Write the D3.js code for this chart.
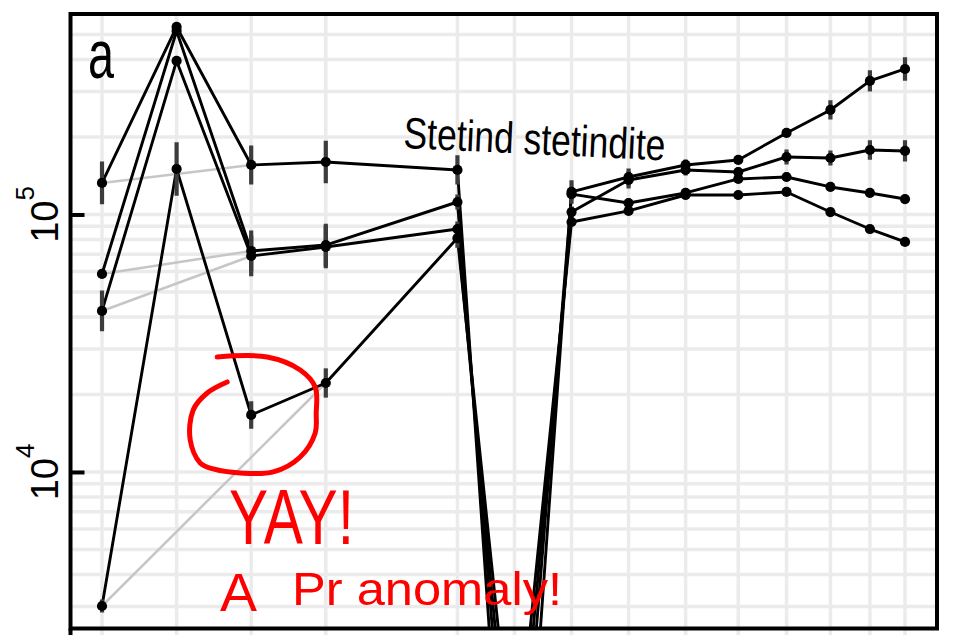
<!DOCTYPE html>
<html><head><meta charset="utf-8">
<script src="https://cdnjs.cloudflare.com/ajax/libs/d3/7.8.5/d3.min.js"></script>
<style>body{margin:0;background:#fff}svg{display:block}</style>
</head><body>
<svg id="c" width="955" height="635"></svg>
<script>
// ---- data ----
const elements = ["La","Ce","Pr","Nd","Sm","Eu","Gd","Tb","Dy","Ho","Er","Tm","Yb","Lu"];
const radius   = [1.160,1.143,1.126,1.109,1.079,1.066,1.053,1.040,1.027,1.015,1.004,0.994,0.985,0.977];
const sample1 = [132600,534800,155700,159900,148900,95,122300,139800,155700,162800,207300,254600,330000,367300];
const sample2 = [58750,516000,72150,76100,111800,220,119900,110800,121200,137400,139800,127900,121200,114800];
const sample3 = [42200,394700,69000,74800,87800,400,102200,136100,148900,146200,167200,165700,178000,176500];
const sample4 = [3017,150200,16650,22160,81000,620,93500,103200,119000,119000,122300,102200,87800,78200];
// relative errors (fraction)
const err1 = [0.21,0.04,0.19,0.21,0.14,0.05,0.11,0.08,0.05,0.04,0.04,0.09,0.10,0.11];
const err2 = [0.04,0.03,0.20,0.21,0.07,0.05,0.05,0.04,0.04,0.04,0.04,0.04,0.04,0.04];
const err3 = [0.20,0.03,0.20,0.21,0.07,0.05,0.05,0.08,0.05,0.04,0.07,0.07,0.09,0.10];
const err4 = [0.06,0.27,0.13,0.14,0.09,0.05,0.04,0.04,0.04,0.04,0.03,0.03,0.03,0.03];
// grey reference segments (element indices)
const refFrom = [0,0,0,0];
const refTo   = [2,2,2,3];
const yGridTicks = [3000,4000,5000,6000,7000,8000,9000,10000,20000,30000,40000,50000,60000,70000,80000,90000,100000,200000,300000,400000,500000,600000];
const yLabelTicks = [10000,100000];
const yLabelExp = ["4","5"];
const xDomain = [1.16718,0.96971];
const yDomain = [2467,600500];

const values = [sample1,sample2,sample3,sample4];
const errs = [err1,err2,err3,err4];

// ---- layout ----
const svg = d3.select("#c");
const L=70.5,R=937,T=14,B=628.5;
const x = d3.scaleLinear().domain(xDomain).range([L,R]);
const y = d3.scaleLog().domain(yDomain).range([B,T]);

svg.append("defs").append("clipPath").attr("id","clip")
  .append("rect").attr("x",L).attr("y",T).attr("width",R-L).attr("height",B-T);

const grid = svg.append("g");
grid.selectAll("line.h").data(yGridTicks).join("line")
  .attr("x1",L).attr("x2",R).attr("y1",d=>y(d)).attr("y2",d=>y(d))
  .attr("stroke","#EBEBEB").attr("stroke-width",3.5);
grid.selectAll("line.v").data(radius).join("line")
  .attr("y1",T).attr("y2",635).attr("x1",d=>x(d)).attr("x2",d=>x(d))
  .attr("stroke","#EBEBEB").attr("stroke-width",3.5);

const plot = svg.append("g").attr("clip-path","url(#clip)");

// grey reference lines
plot.selectAll("line.ref").data(values).join("line")
  .attr("x1",(d,i)=>x(radius[refFrom[i]])).attr("y1",(d,i)=>y(d[refFrom[i]]))
  .attr("x2",(d,i)=>x(radius[refTo[i]])).attr("y2",(d,i)=>y(d[refTo[i]]))
  .attr("stroke","#c6c6c6").attr("stroke-width",2.5);

const line = d3.line().x((d,i)=>x(radius[i])).y(d=>y(d));
plot.selectAll("path.s").data(values).join("path")
  .attr("d",line).attr("fill","none").attr("stroke","#000").attr("stroke-width",2.9)
  .attr("stroke-linejoin","round");

// error bars
values.forEach((vals,si)=>{
  plot.append("g").selectAll("line").data(vals).join("line")
    .attr("x1",(d,i)=>x(radius[i])).attr("x2",(d,i)=>x(radius[i]))
    .attr("y1",(d,i)=>y(d/(1+errs[si][i]))).attr("y2",(d,i)=>y(d*(1+errs[si][i])))
    .attr("stroke","#3c3c3c").attr("stroke-width",4.2);
});
values.forEach((vals)=>{
  plot.append("g").selectAll("circle").data(vals).join("circle")
    .attr("cx",(d,i)=>x(radius[i])).attr("cy",d=>y(d)).attr("r",5.1).attr("fill","#000");
});

// border
svg.append("rect").attr("x",L).attr("y",T).attr("width",R-L).attr("height",B-T)
  .attr("fill","none").attr("stroke","#000").attr("stroke-width",4);
svg.append("line").attr("x1",L).attr("x2",L).attr("y1",B).attr("y2",635)
  .attr("stroke","#000").attr("stroke-width",4);

// y axis ticks (inward)
const ax = svg.append("g").attr("transform",`translate(${L},0)`)
  .call(d3.axisLeft(y).tickValues(yLabelTicks).tickSize(-14).tickFormat(""));
ax.select(".domain").remove();
ax.selectAll(".tick line").attr("stroke","#000").attr("stroke-width",4);

// y labels: 10^k rotated
const font = "'Liberation Sans', Arial, sans-serif";
yLabelTicks.forEach((t,i)=>{
  const g = svg.append("g").attr("transform",`translate(58,${y(t)}) rotate(-90)`);
  const tx = g.append("text").attr("text-anchor","middle").attr("font-family",font).attr("fill","#000");
  tx.append("tspan").attr("font-size",38).text("10");
  tx.append("tspan").attr("font-size",26).attr("dy",-24).text(yLabelExp[i]);
});

// panel label
svg.append("text").attr("x",88).attr("y",78).attr("font-family",font).attr("font-size",68)
  .attr("textLength",26).attr("lengthAdjust","spacingAndGlyphs").text("a");

// mineral label
svg.append("text").attr("transform","translate(403,148) rotate(2.7)")
  .attr("font-family",font).attr("font-size",44)
  .attr("textLength",262).attr("lengthAdjust","spacingAndGlyphs").text("Stetind stetindite");

// red annotations around the Pr point of sample 4
const cx0 = x(radius[2]) + 2, cy0 = y(sample4[2]) - 1;
const loop = [[-36,-57],[14,-57],[47,-44],[62,-27],[63,0],[62,19],[47,43],[20,58],[-13,59],[-40,55],[-53,49],[-63,26],[-60,-4],[-46,-21],[-26,-32]];
svg.append("path")
  .attr("d", d3.line().x(p=>cx0+p[0]).y(p=>cy0+p[1]).curve(d3.curveCatmullRom)(loop))
  .attr("fill","none").attr("stroke","#ff0000").attr("stroke-width",5).attr("stroke-linecap","round");

svg.append("text").attr("x",229).attr("y",544).attr("font-family",font).attr("font-size",78)
  .attr("fill","#ff0000").attr("textLength",125).attr("lengthAdjust","spacingAndGlyphs").text("YAY!");
svg.append("text").attr("x",220).attr("y",611).attr("font-family",font).attr("font-size",54)
  .attr("fill","#ff0000").attr("textLength",37).attr("lengthAdjust","spacingAndGlyphs").text("A");
svg.append("text").attr("x",292).attr("y",605).attr("font-family",font).attr("font-size",46)
  .attr("fill","#ff0000").attr("textLength",270).attr("lengthAdjust","spacingAndGlyphs").text("Pr anomaly!");
</script>
</body></html>
